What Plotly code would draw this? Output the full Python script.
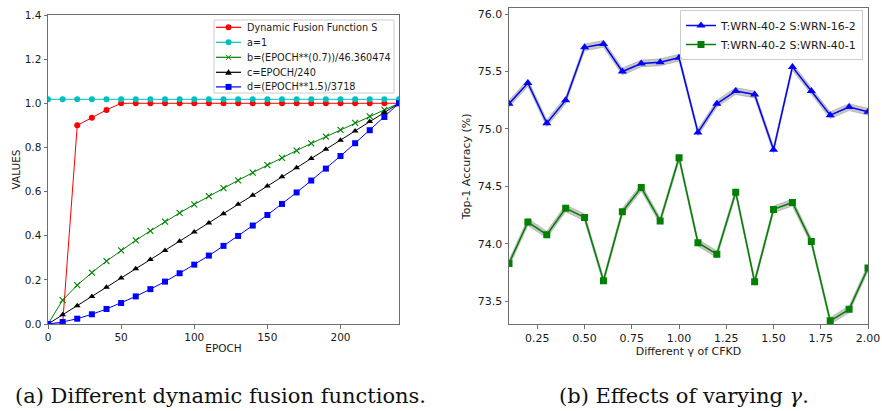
import plotly.graph_objects as go

W, H = 882, 411

# ---------------- data: left panel ----------------
epoch = [0, 10, 20, 30, 40, 50, 60, 70, 80, 90, 100, 110, 120, 130, 140, 150,
         160, 170, 180, 190, 200, 210, 220, 230, 240]
fusion_S = [0.0, 0.0, 0.90, 0.935, 0.97, 1.0, 1.0, 1.0, 1.0, 1.0, 1.0, 1.0, 1.0,
            1.0, 1.0, 1.0, 1.0, 1.0, 1.0, 1.0, 1.0, 1.0, 1.0, 1.0, 1.0]
a_vals = [1.018] * 25
b_vals = [0.0, 0.108, 0.176, 0.233, 0.285, 0.334, 0.379, 0.422, 0.464, 0.503,
          0.542, 0.579, 0.616, 0.651, 0.686, 0.720, 0.753, 0.786, 0.818, 0.849,
          0.880, 0.911, 0.941, 0.970, 1.0]
c_vals = [0.0, 0.042, 0.083, 0.125, 0.167, 0.208, 0.250, 0.292, 0.333, 0.375,
          0.417, 0.458, 0.500, 0.542, 0.583, 0.625, 0.667, 0.708, 0.750, 0.792,
          0.833, 0.875, 0.917, 0.958, 1.0]
d_vals = [0.0, 0.009, 0.024, 0.044, 0.068, 0.095, 0.125, 0.158, 0.192, 0.230,
          0.269, 0.310, 0.354, 0.399, 0.446, 0.494, 0.544, 0.596, 0.650, 0.704,
          0.761, 0.819, 0.878, 0.938, 1.0]
left_names = ["Dynamic Fusion Function S", "a=1", "b=(EPOCH**(0.7))/46.360474",
              "c=EPOCH/240", "d=(EPOCH**1.5)/3718"]
left_xticks = [0, 50, 100, 150, 200]
left_yticks = [0.0, 0.2, 0.4, 0.6, 0.8, 1.0, 1.2, 1.4]

# ---------------- data: right panel ----------------
gamma = [0.1, 0.2, 0.3, 0.4, 0.5, 0.6, 0.7, 0.8, 0.9, 1.0,
         1.1, 1.2, 1.3, 1.4, 1.5, 1.6, 1.7, 1.8, 1.9, 2.0]
acc_wrn16_2 = [75.22, 75.40, 75.05, 75.25, 75.71, 75.74, 75.50, 75.57, 75.58, 75.62,
               74.97, 75.22, 75.33, 75.30, 74.82, 75.54, 75.33, 75.12, 75.19, 75.15]
acc_wrn40_1 = [73.83, 74.19, 74.08, 74.31, 74.23, 73.68, 74.28, 74.49, 74.20, 74.75,
               74.01, 73.91, 74.45, 73.67, 74.30, 74.36, 74.02, 73.33, 73.43, 73.79]
acc_std = [0.03] * 20
right_names = ["T:WRN-40-2 S:WRN-16-2", "T:WRN-40-2 S:WRN-40-1"]
right_xticks = [0.25, 0.50, 0.75, 1.00, 1.25, 1.50, 1.75, 2.00]
right_yticks = [73.5, 74.0, 74.5, 75.0, 75.5, 76.0]

captions = ["(a) Different dynamic fusion functions.", "(b) Effects of varying <i>γ</i>."]

# ---------------- styles ----------------
SANS = "DejaVu Sans"
TXT = "#1a1a1a"
SPINE = "#6e6e6e"


def px(x):
    return x / W


def py(y):
    return 1 - y / H


fig = go.Figure()

left_series = [
    (fusion_S, "red", "circle", 6, 1.0),
    (a_vals, "#00bfbf", "circle", 6, 1.0),
    (b_vals, "green", "x-thin", 6, 1.0),
    (c_vals, "black", "triangle-up", 6, 1.0),
    (d_vals, "blue", "square", 6, 1.0),
]
for (vals, col, sym, ms, lw), name in zip(left_series, left_names):
    mk = dict(symbol=sym, size=ms, color=col)
    if sym == "x-thin":
        mk["line"] = dict(width=1.1, color=col)
    fig.add_trace(go.Scatter(x=epoch, y=vals, mode="lines+markers", name=name,
                             line=dict(color=col, width=lw), marker=mk,
                             showlegend=False, xaxis="x", yaxis="y"))

# right panel: shaded bands + lines
for vals, col, sym, name in [(acc_wrn16_2, "blue", "triangle-up", right_names[0]),
                             (acc_wrn40_1, "green", "square", right_names[1])]:
    lo = [v - s for v, s in zip(vals, acc_std)]
    hi = [v + s for v, s in zip(vals, acc_std)]
    fig.add_trace(go.Scatter(x=gamma, y=lo, mode="lines", line=dict(width=0.6, color="rgba(120,120,120,0.55)"),
                             showlegend=False, hoverinfo="skip", xaxis="x2", yaxis="y2"))
    fig.add_trace(go.Scatter(x=gamma, y=hi, mode="lines", line=dict(width=0.6, color="rgba(120,120,120,0.55)"),
                             fill="tonexty", fillcolor="rgba(128,128,128,0.45)",
                             showlegend=False, hoverinfo="skip", xaxis="x2", yaxis="y2"))
    fig.add_trace(go.Scatter(x=gamma, y=vals, mode="lines+markers", name=name,
                             line=dict(color=col, width=1.5),
                             marker=dict(symbol=sym, size=7 if sym == "square" else 8, color=col),
                             xaxis="x2", yaxis="y2"))

axis_common = dict(showgrid=False, zeroline=False, showline=True, mirror=True,
                   linecolor=SPINE, linewidth=1, ticks="outside", ticklen=3.5,
                   tickwidth=1, tickcolor=SPINE, automargin=False)

fig.update_layout(
    width=W, height=H, margin=dict(l=0, r=0, t=0, b=0),
    paper_bgcolor="white", plot_bgcolor="white",
    font=dict(family=SANS, color=TXT),
    xaxis=dict(domain=[px(48), px(399)], range=[0, 240], tickvals=left_xticks,
               tickfont=dict(size=10.5), anchor="y",
               title=dict(text="EPOCH", font=dict(size=10.5), standoff=2), **axis_common),
    yaxis=dict(domain=[py(324), py(15)], range=[0, 1.4], tickvals=left_yticks,
               tickformat=".1f", tickfont=dict(size=10.5), anchor="x",
               title=dict(text="VALUES", font=dict(size=10.5), standoff=2), **axis_common),
    xaxis2=dict(domain=[px(509), px(868)], range=[0.1, 2.0], tickvals=right_xticks,
                tickformat=".2f", tickfont=dict(size=11), anchor="y2",
                title=dict(text="Different γ of CFKD", font=dict(size=11), standoff=2), **axis_common),
    yaxis2=dict(domain=[py(324.3), py(8.3)], range=[73.3, 76.05], tickvals=right_yticks,
                tickformat=".1f", tickfont=dict(size=11), anchor="x2",
                title=dict(text="Top-1 Accuracy (%)", font=dict(size=11), standoff=4), **axis_common),
    legend=dict(x=px(863), y=py(10), xanchor="right", yanchor="top",
                bgcolor="rgba(255,255,255,0.8)", bordercolor="#cccccc", borderwidth=1,
                font=dict(size=11, family=SANS, color=TXT), itemwidth=30,
                tracegroupgap=0, traceorder="normal"),
)

# ---------------- custom compact legend for left panel ----------------
shapes = []
annots = []
shapes.append(dict(type="rect", xref="paper", yref="paper",
                   x0=px(214), x1=px(394), y0=py(93), y1=py(20),
                   fillcolor="rgba(255,255,255,0.85)", line=dict(color="#cccccc", width=1)))
rows = [27.3, 42.3, 57.3, 72.3, 86.9]
for (vals, col, sym, ms, lw), name, ry in zip(left_series, left_names, rows):
    shapes.append(dict(type="line", xref="paper", yref="paper",
                       x0=px(216), x1=px(241), y0=py(ry), y1=py(ry),
                       line=dict(color=col, width=1.2)))
    cx = 228.5
    r = 3
    if sym == "circle":
        shapes.append(dict(type="circle", xref="paper", yref="paper",
                           x0=px(cx - r), x1=px(cx + r), y0=py(ry + r), y1=py(ry - r),
                           fillcolor=col, line=dict(color=col, width=0)))
    elif sym == "square":
        shapes.append(dict(type="rect", xref="paper", yref="paper",
                           x0=px(cx - r), x1=px(cx + r), y0=py(ry + r), y1=py(ry - r),
                           fillcolor=col, line=dict(color=col, width=0)))
    elif sym == "triangle-up":
        path = "M {} {} L {} {} L {} {} Z".format(px(cx), py(ry - 3.3), px(cx + 3.3), py(ry + 2.5),
                                                  px(cx - 3.3), py(ry + 2.5))
        shapes.append(dict(type="path", xref="paper", yref="paper", path=path,
                           fillcolor=col, line=dict(color=col, width=0)))
    else:
        for s in (1, -1):
            shapes.append(dict(type="line", xref="paper", yref="paper",
                               x0=px(cx - 2.5), x1=px(cx + 2.5), y0=py(ry - 2.5 * s), y1=py(ry + 2.5 * s),
                               line=dict(color=col, width=1)))
    annots.append(dict(xref="paper", yref="paper", x=px(245), y=py(ry), text=name,
                       showarrow=False, xanchor="left", yanchor="middle",
                       font=dict(size=9.7, family=SANS, color=TXT)))

# captions
for cap, cxp in zip(captions, [221, 684]):
    annots.append(dict(xref="paper", yref="paper", x=px(cxp), y=py(396), text=cap,
                       showarrow=False, xanchor="center", yanchor="middle",
                       font=dict(size=21, family="DejaVu Serif", color="#111111")))

fig.update_layout(shapes=shapes, annotations=annots)
fig.write_html("out.html", config={"displayModeBar": False},
               post_script="document.body.style.margin='0';document.body.style.padding='0';"
                           "document.body.style.overflow='hidden';")
